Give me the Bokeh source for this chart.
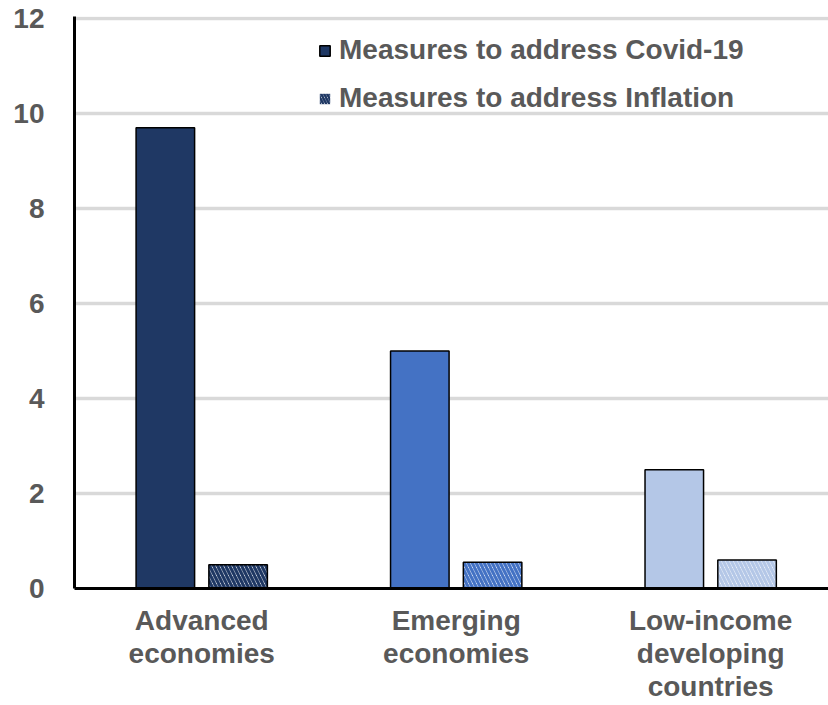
from bokeh.plotting import figure
from bokeh.models import ColumnDataSource, Range1d, FixedTicker, Legend, LegendItem
from bokeh.embed import file_html
from bokeh.resources import INLINE

# Fiscal measures by country group (percent of GDP)
categories = ["Advanced\neconomies", "Emerging\neconomies", "Low-income\ndeveloping\ncountries"]
covid = [9.7, 5.0, 2.5]
inflation = [0.5, 0.55, 0.6]
group_colors = ["#1F3864", "#4472C4", "#B4C7E7"]
series_names = ["Measures to address Covid-19", "Measures to address Inflation"]
y_ticks = [0, 2, 4, 6, 8, 10, 12]

FONT = "Liberation Sans"
TEXT_COLOR = "#595959"

centers = [i + 0.5 for i in range(len(categories))]
offset = 0.143
bar_w = 0.23

covid_src = ColumnDataSource(dict(x=[c - offset for c in centers], top=covid, color=group_colors))
infl_src = ColumnDataSource(dict(x=[c + offset for c in centers], top=inflation, color=group_colors))

p = figure(width=828, height=705, output_backend="svg", toolbar_location=None,
           x_range=Range1d(0, 2.963), y_range=Range1d(0, 12.04))
p.min_border_left = 74
p.min_border_right = 0
p.min_border_top = 16
p.min_border_bottom = 117
p.outline_line_color = None
p.background_fill_color = "white"
p.border_fill_color = "white"

p.vbar(x="x", top="top", width=bar_w, bottom=0, source=covid_src,
       fill_color="color", line_color="black", line_width=1.5)
p.vbar(x="x", top="top", width=bar_w, bottom=0, source=infl_src,
       fill_color="white", hatch_color="color", hatch_pattern="\\",
       hatch_scale=8, hatch_weight=3.2, line_color="black", line_width=1.5)

# legend swatches (kept outside the visible range)
leg_covid = p.quad(left=[-2], right=[-1], bottom=[-2], top=[-1], fill_color=group_colors[0],
                   line_color="black", line_width=1.5)
leg_infl = p.quad(left=[-2], right=[-1], bottom=[-2], top=[-1], fill_color="white",
                  line_color=None, hatch_color=group_colors[0], hatch_pattern="\\",
                  hatch_scale=6, hatch_weight=2.5)

legend = Legend(items=[LegendItem(label=series_names[0], renderers=[leg_covid]),
                       LegendItem(label=series_names[1], renderers=[leg_infl])],
                location=(244, 474))
legend.background_fill_alpha = 0
legend.border_line_color = None
legend.label_text_font = FONT
legend.label_text_font_style = "bold"
legend.label_text_font_size = "28px"
legend.label_text_color = TEXT_COLOR
legend.glyph_width = 13
legend.glyph_height = 13
legend.label_standoff = 8
legend.spacing = 16
legend.padding = 0
legend.margin = 0
p.add_layout(legend, "center")

# grid
p.xgrid.grid_line_color = None
p.ygrid.grid_line_color = "#D9D9D9"
p.ygrid.grid_line_width = 3.5
p.ygrid.ticker = FixedTicker(ticks=y_ticks[1:])

# axes
p.yaxis.ticker = FixedTicker(ticks=y_ticks)
p.xaxis.ticker = FixedTicker(ticks=centers)
p.xaxis.major_label_overrides = {c: lab for c, lab in zip(centers, categories)}
for ax in (p.xaxis[0], p.yaxis[0]):
    ax.axis_line_color = "black"
    ax.axis_line_width = 3
    ax.major_tick_line_color = None
    ax.minor_tick_line_color = None
    ax.major_label_text_font = FONT
    ax.major_label_text_font_style = "bold"
    ax.major_label_text_font_size = "28px"
    ax.major_label_text_color = TEXT_COLOR
    ax.major_label_text_line_height = 1.07
p.yaxis.major_label_standoff = 24
p.xaxis.major_label_standoff = 10

open("out.html", "w").write(file_html(p, INLINE))
